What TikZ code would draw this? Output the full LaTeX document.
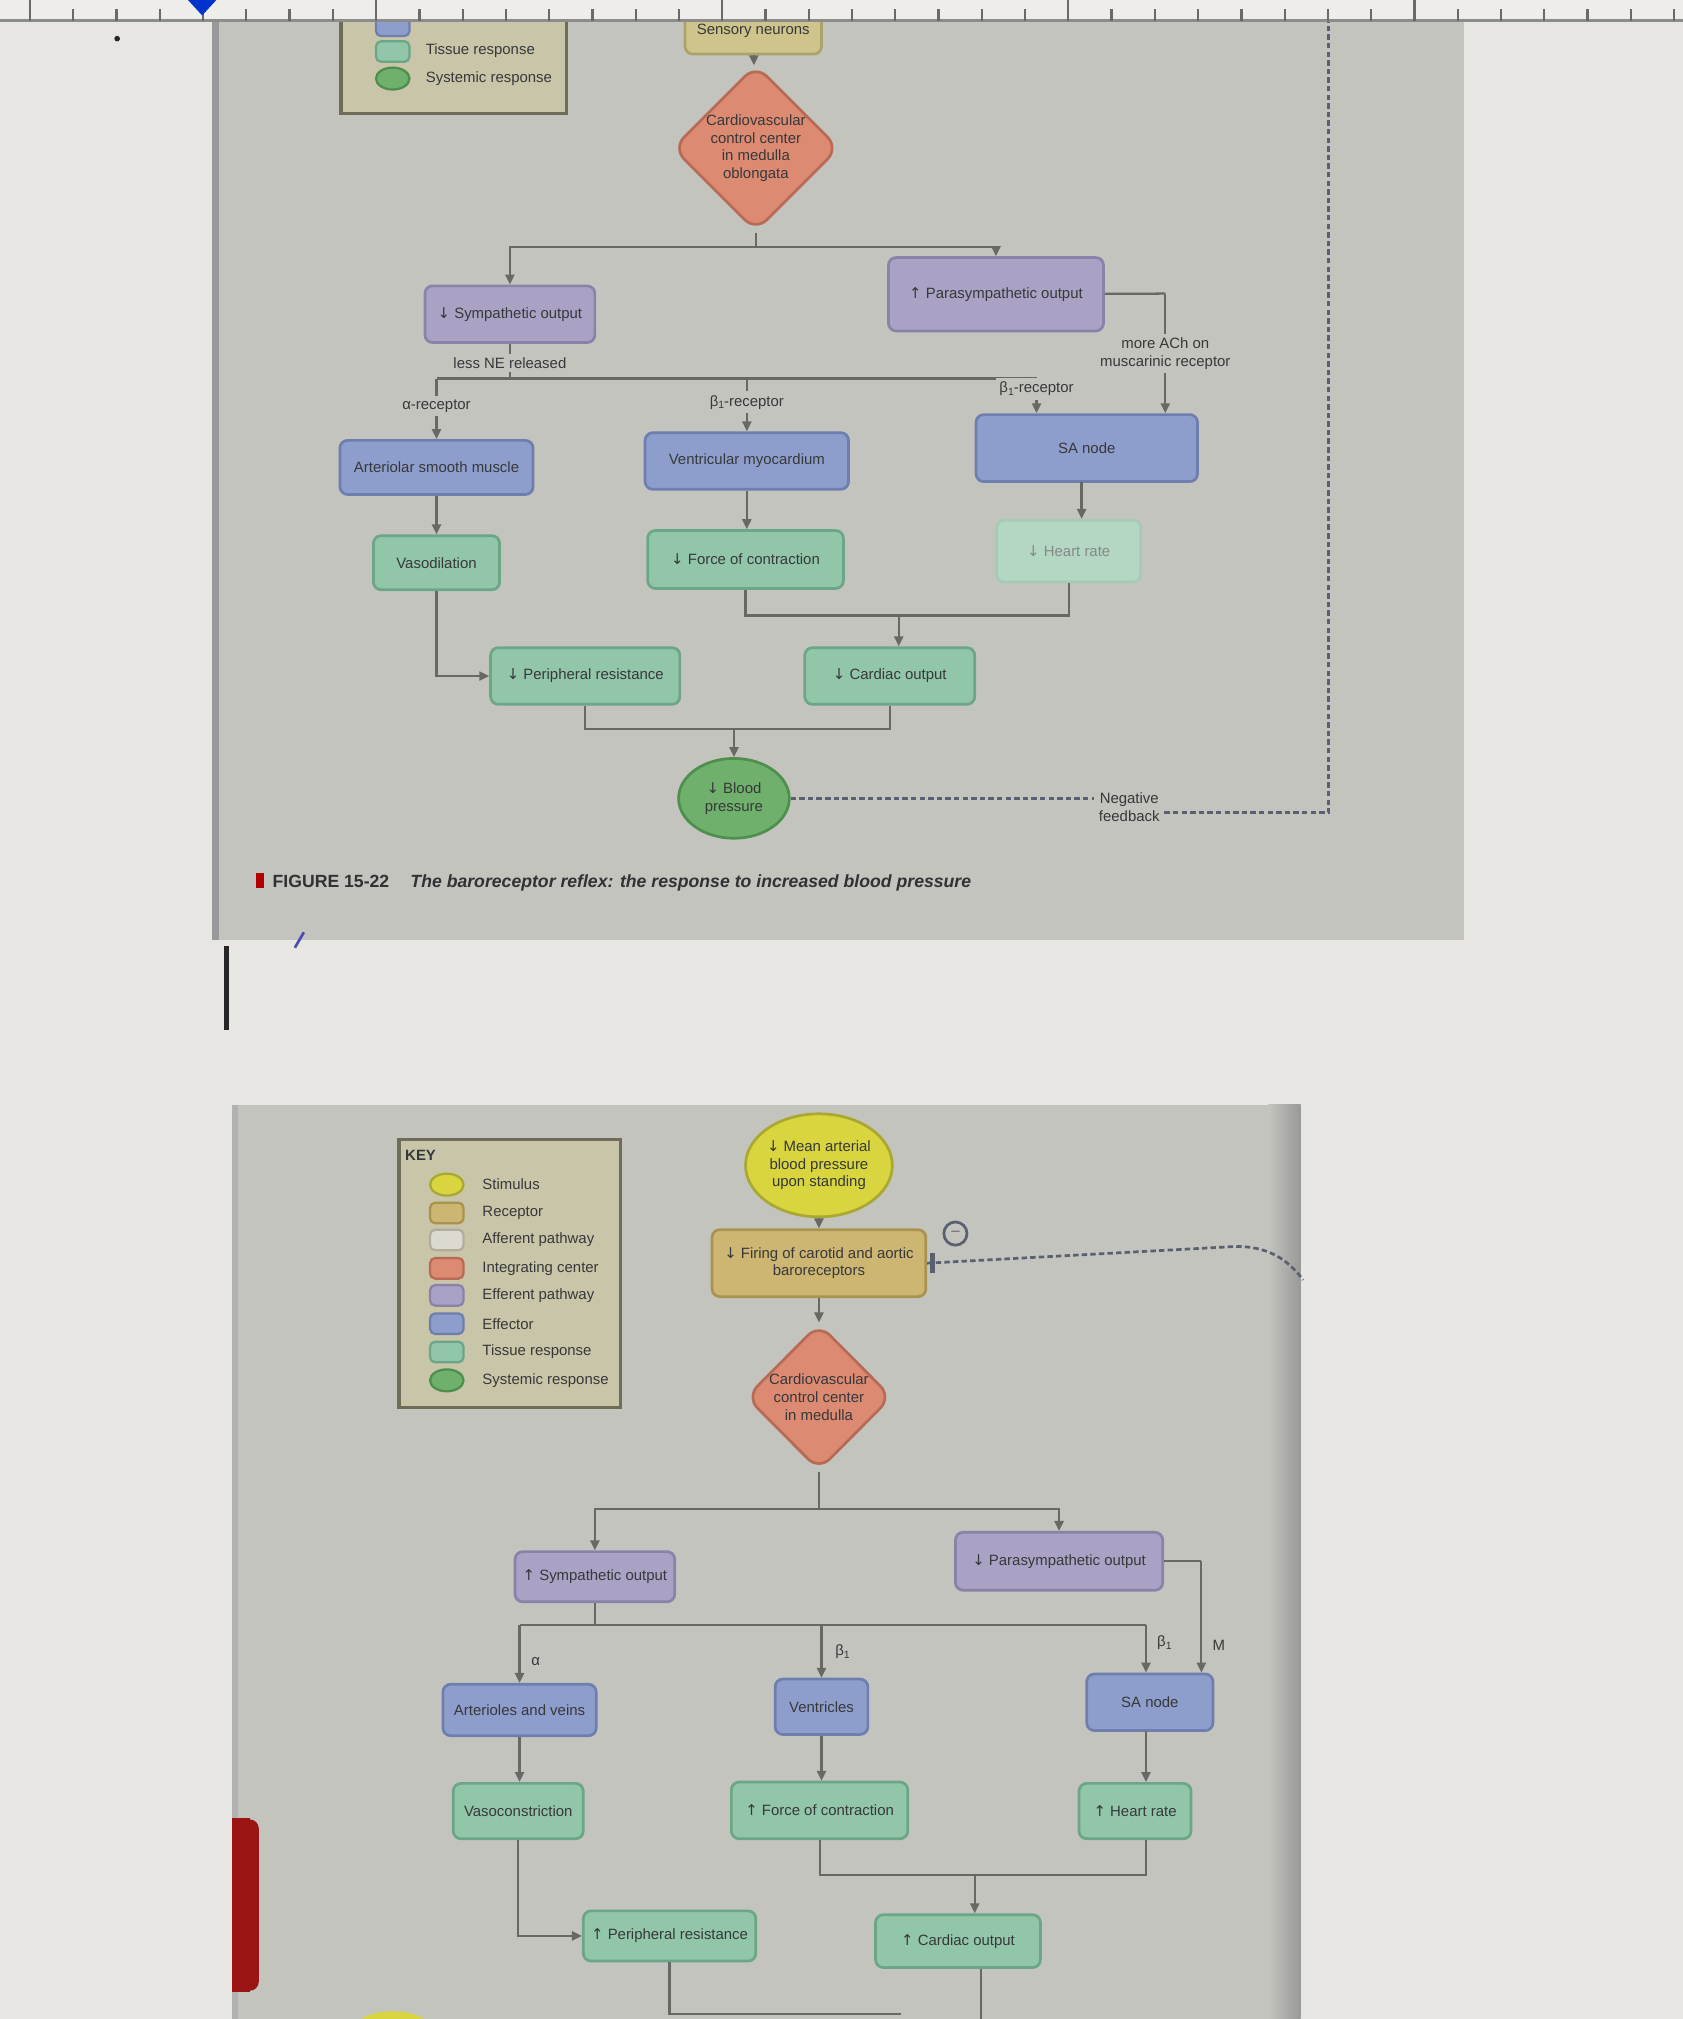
\documentclass[tikz,border=0pt]{standalone}
\usepackage{fontspec}
\setmainfont{Liberation Sans}
\newfontfamily\arrfont{DejaVu Sans}
\usetikzlibrary{arrows.meta,shapes.geometric,calc}
\definecolor{whitebg}{HTML}{E7E6E2}
\definecolor{panelA}{HTML}{C4C4BE}
\definecolor{panelB}{HTML}{C3C4BE}
\definecolor{rulerc}{HTML}{EEEDE9}
\definecolor{tickc}{HTML}{6A6A6A}
\definecolor{linec}{HTML}{686965}
\definecolor{txt}{HTML}{37383A}
\definecolor{sensf}{HTML}{CFC48C}\definecolor{sensd}{HTML}{ABA26C}
\definecolor{cvcf}{HTML}{DC8A72}\definecolor{cvcd}{HTML}{B86A55}
\definecolor{purf}{HTML}{AAA2C4}\definecolor{purd}{HTML}{8A82A8}
\definecolor{efff}{HTML}{8E9ECC}\definecolor{effd}{HTML}{6E7EAE}
\definecolor{tisf}{HTML}{92C6A8}\definecolor{tisd}{HTML}{6AA687}
\definecolor{sysf}{HTML}{6EB06C}\definecolor{sysd}{HTML}{4E8F4E}
\definecolor{stimf}{HTML}{D8D53E}\definecolor{stimd}{HTML}{AAA830}
\definecolor{recf}{HTML}{CDB672}\definecolor{recd}{HTML}{A8934F}
\definecolor{afff}{HTML}{DCDAD0}\definecolor{affd}{HTML}{B0AD9E}
\definecolor{keyf}{HTML}{C9C5A8}\definecolor{keyd}{HTML}{6F6C5A}
\definecolor{fbc}{HTML}{5B6070}
\definecolor{tabred}{HTML}{9A1414}
\newcommand\fs{\fontsize{3.3}{3.9}\selectfont}
\newcommand\UpA{{\arrfont ↑}}
\newcommand\DnA{{\arrfont ↓}}
\newcommand\subone{\raisebox{-0.35ex}{\fontsize{2.3}{2.3}\selectfont 1}}
\newcommand\bx[7]{\node[#6, minimum width={(#4-#2)*0.1mm}, minimum height={(#5-#3)*0.1mm}] (#1) at ({(#2+#4)/2},{(#3+#5)/2}) {#7};}
\tikzset{
  ln/.style={draw=linec, line width=0.5pt},
  arr/.style={ln, -{Triangle[length=2.2pt,width=2pt]}},
  bxs/.style={rectangle, rounded corners=0.6mm, line width=0.6pt, inner sep=0.3mm, align=center, font=\fs, text=txt},
  sensb/.style={bxs, fill=sensf, draw=sensd},
  purb/.style={bxs, fill=purf, draw=purd},
  effb/.style={bxs, fill=efff, draw=effd},
  tisb/.style={bxs, fill=tisf, draw=tisd},
  recb/.style={bxs, fill=recf, draw=recd},
  dia/.style={diamond, rounded corners=1.2mm, fill=cvcf, draw=cvcd, line width=0.6pt, inner sep=0pt, align=center, font=\fs, text=txt},
  ell/.style={ellipse, line width=0.6pt, inner sep=0pt, align=center, font=\fs, text=txt},
  lblA/.style={font=\fs, text=txt, fill=panelA, inner sep=0.3mm, align=center},
  lblB/.style={font=\fs, text=txt, inner sep=0.3mm, align=center},
  fbdash/.style={draw=fbc, line width=0.6pt, dash pattern=on 1.2pt off 0.7pt},
  sw/.style={rectangle, rounded corners=0.4mm, line width=0.5pt, minimum width=2.6mm, minimum height=1.6mm, inner sep=0pt},
  swe/.style={ellipse, line width=0.5pt, minimum width=2.6mm, minimum height=1.7mm, inner sep=0pt},
  keyt/.style={anchor=west, font=\fs, text=txt, inner sep=0pt},
  tickl/.style={draw=tickc, line width=0.5pt}
}
\begin{document}
\begin{tikzpicture}[x=0.1mm,y=-0.1mm]
\clip (0,0) rectangle (1307,1568);
% backgrounds
\fill[whitebg] (0,0) rectangle (1307,1568);
\fill[panelA] (168,0) rectangle (1137,730);
\fill[black!40] (165,0) rectangle (170,730);
\fill[panelB] (183,858) rectangle (1010,1568);
\shade[left color=panelB, right color=black!40] (985,858) rectangle (1010,1568);
\fill[black!30] (180,858) rectangle (185,1568);
% marks
\fill[black!85] (91,30) circle (2.2);
\fill[black!85] (174,735) rectangle (178,800);
\draw[blue!40!gray, line width=0.6pt] (229,736) -- (236,724);
\fill[tabred] (180,1412) rectangle (194,1547);
\fill[tabred] (194,1420) rectangle (201,1539);
\fill[tabred] (194,1420) circle (7);
\fill[tabred] (194,1539) circle (7);
\fill[stimf] (305,1574) ellipse (28 and 12);

% ===== top panel: partial legend =====
\draw[draw=keyd, fill=keyf, line width=0.8pt] (265,4) rectangle (440,88);
\node[sw, fill=efff, draw=effd] (lgA) at (305,20) {};
\node[sw, fill=tisf, draw=tisd] (lgB) at (305,40) {};
\node[swe, fill=sysf, draw=sysd] (lgC) at (305,61) {};
\node[keyt] (lgBt) at (330,39) {Tissue response};
\node[keyt] (lgCt) at (330,61) {Systemic response};

% ===== top panel: flow =====
\bx{sens}{532}{6}{638}{42}{sensb}{Sensory neurons}
\node[dia, minimum width=11.5mm, minimum height=12mm] (cvc) at (587,115) {Cardiovascular\\control center\\in medulla\\oblongata};
\draw[arr] (sens) -- (cvc);
\bx{symp}{330}{222}{462}{266}{purb}{\DnA\ Sympathetic output}
\bx{para}{690}{200}{857}{257}{purb}{\UpA\ Parasympathetic output}
\coordinate (j1) at (587,192);
\draw[ln] (cvc) -- (j1);
\draw[arr] (j1) -| (symp);
\draw[arr] (j1) -| (para);

\bx{art}{264}{342}{414}{384}{effb}{Arteriolar smooth muscle}
\bx{vent}{501}{336}{659}{380}{effb}{Ventricular myocardium}
\bx{sa}{758}{322}{930}{374}{effb}{SA node}

\coordinate (j2) at (396,294);
\coordinate (jA) at (339,294);
\coordinate (jV) at (580,294);
\coordinate (jS) at (805,294);
\draw[ln] (symp) -- node[lblA, pos=0.55]{less NE released} (j2);
\draw[ln] (jA) -- (jS);
\draw[arr] (jA) -- node[lblA, pos=0.45]{α-receptor} (jA |- art.north);
\draw[arr] (jV) -- node[lblA, pos=0.45]{β\subone-receptor} (vent);
\draw[arr] (jS) -- node[lblA, pos=0.3]{β\subone-receptor} (jS |- sa.north);
\coordinate (jM) at (905,228);
\draw[ln] (para) -- (jM);
\draw[arr] (jM) -- node[lblA, pos=0.5]{more ACh on\\muscarinic receptor} (jM |- sa.north);

\bx{vaso}{290}{416}{388}{458}{tisb}{Vasodilation}
\bx{force}{503}{412}{655}{457}{tisb}{\DnA\ Force of contraction}
\bx{hr}{774}{404}{886}{452}{bxs, fill=tisf!70!white, draw=tisd!60!white, text=txt!60!white}{\DnA\ Heart rate}
\draw[arr] (art) -- (art |- vaso.north);
\draw[arr] (vent) -- (vent |- force.north);
\coordinate (jH0) at (840,374);
\draw[arr] (jH0) -- (jH0 |- hr.north);

\bx{pr}{381}{503}{528}{547}{tisb}{\DnA\ Peripheral resistance}
\bx{co}{625}{503}{757}{547}{tisb}{\DnA\ Cardiac output}
\coordinate (jF) at (579,478);
\coordinate (jH) at (830,478);
\coordinate (jC) at (698,478);
\draw[ln] (force) -- (jF) -- (jH) -- (hr);
\draw[arr] (jC) -- (jC |- co.north);
\draw[arr] (vaso) |- (pr);

\node[ell, fill=sysf, draw=sysd, minimum width=8.6mm, minimum height=6.2mm] (bp) at (570,620) {\DnA\ Blood\\pressure};
\coordinate (jP) at (454.5,566);
\coordinate (jQ) at (691,566);
\coordinate (jB) at (570,566);
\draw[ln] (pr) -- (jP) -- (jQ) -- (co);
\draw[arr] (jB) -- (bp);

\node[lblB] (nf) at (877,627) {Negative\\feedback};
\coordinate (fb1) at (1032,631);
\coordinate (fb2) at (1032,0);
\draw[fbdash] (bp.east) -- (bp.east -| nf.west);
\draw[fbdash] (nf.east |- fb1) -- (fb1) -- (fb2);

\fill[red!70!black] (199,678) rectangle (205,690);
\node[anchor=west, inner sep=0pt, text=txt!90!black, font=\fontsize{3.9}{4.5}\selectfont] (cap) at (211,686) {\textbf{FIGURE 15-22}\hspace{1.2em}\textbf{\textit{The baroreceptor reflex: the response to increased blood pressure}}};

% ===== bottom panel: key =====
\draw[draw=keyd, fill=keyf, line width=0.8pt] (310,885) rectangle (482,1093);
\node[keyt, font=\fontsize{3.3}{3.9}\selectfont\bfseries] (keyh) at (314,897) {KEY};
\node[swe, fill=stimf, draw=stimd] (kA) at (347,920) {};
\node[sw, fill=recf, draw=recd] (kB) at (347,942) {};
\node[sw, fill=afff, draw=affd] (kC) at (347,963) {};
\node[sw, fill=cvcf, draw=cvcd] (kD) at (347,985) {};
\node[sw, fill=purf, draw=purd] (kE) at (347,1006) {};
\node[sw, fill=efff, draw=effd] (kF) at (347,1028) {};
\node[sw, fill=tisf, draw=tisd] (kG) at (347,1050) {};
\node[swe, fill=sysf, draw=sysd] (kH) at (347,1072) {};
\node[keyt] (kAt) at (374,920) {Stimulus};
\node[keyt] (kBt) at (374,942) {Receptor};
\node[keyt] (kCt) at (374,963) {Afferent pathway};
\node[keyt] (kDt) at (374,985) {Integrating center};
\node[keyt] (kEt) at (374,1006) {Efferent pathway};
\node[keyt] (kFt) at (374,1028) {Effector};
\node[keyt] (kGt) at (374,1050) {Tissue response};
\node[keyt] (kHt) at (374,1072) {Systemic response};

% ===== bottom panel: flow =====
\node[ell, fill=stimf, draw=stimd, minimum width=11.4mm, minimum height=8mm] (stim) at (636,905) {\DnA\ Mean arterial\\blood pressure\\upon standing};
\bx{rec}{553}{955}{719}{1007}{recb}{\DnA\ Firing of carotid and aortic\\baroreceptors}
\draw[arr] (stim) -- (rec);
\node[circle, draw=fbc, line width=0.6pt, minimum size=1.8mm, inner sep=0pt, font=\fs, text=fbc] (minus) at (742,958) {--};
\coordinate (d1) at (960,968);
\coordinate (d2) at (1012,994);
\draw[draw=fbc, line width=1.1pt] ($(rec.east)+(4,-8)$) -- ($(rec.east)+(4,8)$);
\draw[fbdash] (rec.east) -- (d1) .. controls (985,968) and (1000,978) .. (d2);

\node[dia, minimum width=11mm, minimum height=11.4mm] (cvc2) at (636,1085) {Cardiovascular\\control center\\in medulla};
\draw[arr] (rec) -- (cvc2);
\bx{symp2}{400}{1205}{524}{1244}{purb}{\UpA\ Sympathetic output}
\bx{para2}{742}{1190}{903}{1235}{purb}{\DnA\ Parasympathetic output}
\coordinate (k1) at (636,1172);
\draw[ln] (cvc2) -- (k1);
\draw[arr] (k1) -| (symp2);
\draw[arr] (k1) -| (para2);

\bx{artv}{344}{1308}{463}{1348}{effb}{Arterioles and veins}
\bx{ventr}{602}{1304}{674}{1347}{effb}{Ventricles}
\bx{sa2}{844}{1300}{942}{1344}{effb}{SA node}
\coordinate (k2) at (462,1262);
\coordinate (kA1) at (403.5,1262);
\coordinate (kV1) at (638,1262);
\coordinate (kS1) at (890,1262);
\draw[ln] (symp2) -- (k2);
\draw[ln] (kA1) -- (kS1);
\draw[arr] (kA1) -- (kA1 |- artv.north);
\draw[arr] (kV1) -- (ventr);
\draw[arr] (kS1) -- (kS1 |- sa2.north);
\coordinate (m1) at (933,1212.5);
\draw[ln] (para2) -- (m1);
\draw[arr] (m1) -- (m1 |- sa2.north);
\node[lblB, anchor=west] (la1) at (409,1290) {α};
\node[lblB, anchor=west] (la2) at (645,1283) {β\subone};
\node[lblB, anchor=west] (la3) at (895,1276) {β\subone};
\node[lblB, anchor=west] (la4) at (938,1278) {M};

\bx{vcon}{352}{1385}{453}{1428}{tisb}{Vasoconstriction}
\bx{force2}{568}{1384}{705}{1428}{tisb}{\UpA\ Force of contraction}
\bx{hr2}{838}{1385}{925}{1428}{tisb}{\UpA\ Heart rate}
\draw[arr] (artv) -- (artv |- vcon.north);
\draw[arr] (ventr) -- (ventr |- force2.north);
\coordinate (kS2) at (890,1344);
\draw[arr] (kS2) -- (kS2 |- hr2.north);

\bx{pr2}{453}{1484}{587}{1523}{tisb}{\UpA\ Peripheral resistance}
\bx{co2}{680}{1487}{808}{1528}{tisb}{\UpA\ Cardiac output}
\coordinate (k3) at (637,1456);
\coordinate (k4) at (890,1456);
\coordinate (k5) at (757,1456);
\draw[ln] (k3 |- force2.south) -- (k3) -- (k4) -- (k4 |- hr2.south);
\draw[arr] (k5) -- (k5 |- co2.north);
\draw[arr] (vcon) |- (pr2);
\coordinate (k6) at (520,1564);
\coordinate (k7) at (700,1564);
\coordinate (k8) at (762,1570);
\draw[ln] (pr2) -- (k6) -- (k7);
\draw[ln] (k8 |- co2.south) -- (k8);

% ===== ruler =====
\fill[rulerc] (0,0) rectangle (1307,16);
\draw[draw=black!45, line width=0.6pt] (0,16) -- (1307,16);
\foreach \k in {0,...,38}{
  \pgfmathsetmacro\tkx{23.3+33.6*\k}
  \pgfmathtruncatemacro\tkm{mod(\k,8)}
  \ifnum\tkm=0 \draw[tickl] (\tkx,0) -- (\tkx,16); \else \draw[tickl] (\tkx,7) -- (\tkx,16); \fi
}
\fill[blue!75!cyan!80!black] (146,0) -- (168,0) -- (157,12) -- cycle;
\end{tikzpicture}
\end{document}
